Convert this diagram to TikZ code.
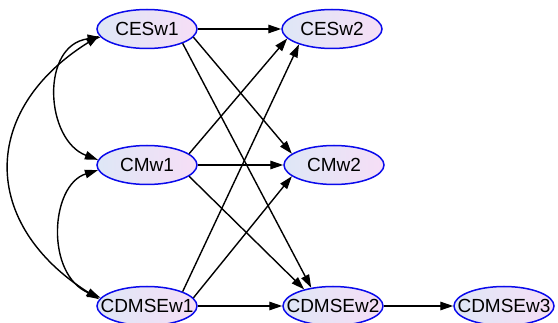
\documentclass[tikz,border=0pt]{standalone}
\usepackage{fontspec}
\setmainfont{Liberation Sans}
\usetikzlibrary{shapes.geometric,arrows.meta}
\definecolor{nodeblue}{RGB}{10,10,235}
\definecolor{shadeL}{RGB}{222,231,246}
\definecolor{shadeR}{RGB}{246,222,246}
\begin{document}
\begin{tikzpicture}[x=1pt,y=-1pt,
  var/.style={ellipse, draw=nodeblue, line width=1.5pt, left color=shadeL, right color=shadeR,
    minimum width=100pt, minimum height=39pt, inner sep=0pt,
    font=\fontsize{19}{21}\selectfont},
  tip/.tip={Triangle[length=13pt,width=8.5pt]},
  edge/.style={line width=1.4pt, -tip},
  both/.style={line width=1.4pt, tip-tip}]
\useasboundingbox (0,0) rectangle (558,323);

% variables
\node[var] (CESw1)   at (147,29)  {\makebox[0pt]{CESw1}};
\node[var] (CESw2)   at (332,29)  {\makebox[0pt]{CESw2}};
\node[var] (CMw1)    at (147,165) {\makebox[0pt]{CMw1}};
\node[var] (CMw2)    at (334,165) {\makebox[0pt]{CMw2}};
\node[var] (CDMSEw1) at (147,306) {\makebox[0pt]{CDMSEw1}};
\node[var] (CDMSEw2) at (333,306) {\makebox[0pt]{CDMSEw2}};
\node[var] (CDMSEw3) at (504,306) {\makebox[0pt]{CDMSEw3}};

% directed paths
\draw[edge] (CESw1) -- (CESw2);
\draw[edge] (CESw1.-10) -- (CMw2.165);
\draw[edge] (CESw1.-22) -- (CDMSEw2.140);
\draw[edge] (CMw1.15) -- (CESw2.192);
\draw[edge] (CMw1) -- (CMw2);
\draw[edge] (CMw1.-15) -- (CDMSEw2.150);
\draw[edge] (CDMSEw1.22) -- (CESw2.205);
\draw[edge] (CDMSEw1.10) -- (CMw2.195);
\draw[edge] (CDMSEw1) -- (CDMSEw2);
\draw[edge] (CDMSEw2) -- (CDMSEw3);

% covariances
\draw[both] (CESw1.188) .. controls (-20,110) and (-20,224) .. (CDMSEw1.172);
\draw[both] (CESw1.190) .. controls (40,45) and (45,140) .. (CMw1.174);
\draw[both] (CMw1.186) .. controls (50,185) and (45,275) .. (CDMSEw1.170);
\end{tikzpicture}
\end{document}
